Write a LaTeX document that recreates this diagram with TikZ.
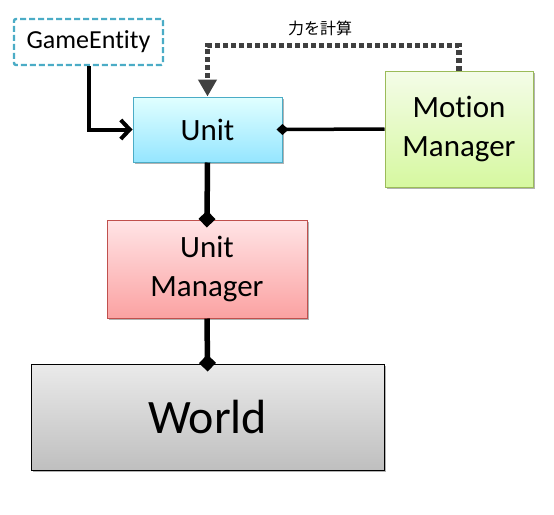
\documentclass[tikz,border=0pt]{standalone}
\usepackage{fontspec}
\setmainfont{Carlito}[Ligatures=NoCommon]
\newfontfamily\jpfont{Noto Sans CJK JP}
\usetikzlibrary{arrows.meta,shadows}
\definecolor{tealb}{HTML}{4BACC6}
\definecolor{greenb}{HTML}{9BBB59}
\definecolor{redb}{HTML}{C0504D}
\definecolor{dotgray}{HTML}{404040}
\tikzset{
  boxbase/.style={draw, line width=1pt, inner sep=0pt, align=center,
    drop shadow={shadow xshift=1.5pt, shadow yshift=-1.5pt, opacity=0.3, fill=black}},
  unitbox/.style={boxbase, draw=tealb, top color=cyan!12!white, bottom color=cyan!35!white!90!blue},
  motionbox/.style={boxbase, draw=greenb, top color={rgb,255:red,244;green,252;blue,232}, bottom color={rgb,255:red,214;green,248;blue,160}},
  umbox/.style={boxbase, draw=redb, top color={rgb,255:red,255;green,228;blue,230}, bottom color={rgb,255:red,251;green,162;blue,162}},
  worldbox/.style={boxbase, draw=black, top color={rgb,255:red,234;green,234;blue,234}, bottom color={rgb,255:red,191;green,191;blue,191}},
  gebox/.style={draw=tealb, line width=2.4pt, dash pattern=on 6pt off 3pt, rounded corners=2pt, fill=white, inner sep=0pt},
  conn/.style={line width=4.5pt, draw=black},
  dia/.style={-{Diamond[length=17pt,width=17pt]}, shorten >=-8pt},
}
\begin{document}
\begin{tikzpicture}[x=1pt,y=-1pt]
\useasboundingbox (0,0) rectangle (554,514);
\node[gebox, minimum width=149pt, minimum height=46pt, font=\fontsize{26}{30}\selectfont] (ge) at (88.5,42) {GameEntity};
\node[unitbox, minimum width=149pt, minimum height=65pt, font=\fontsize{31}{38}\selectfont] (unit) at (207.5,129.5) {Unit};
\node[motionbox, minimum width=148pt, minimum height=116pt, font=\fontsize{31}{39}\selectfont] (mm) at (459,129) {Motion\\Manager};
\node[umbox, minimum width=200pt, minimum height=98pt, font=\fontsize{31}{39}\selectfont] (um) at (207,269) {Unit\\Manager};
\node[worldbox, minimum width=353pt, minimum height=106pt, font=\fontsize{48}{56}\selectfont] (world) at (207.5,417) {World};
\node[font=\jpfont\fontsize{16}{18}\selectfont, inner sep=0pt] (lbl) at (320,28) {力を計算};
% connectors
\draw[conn, line width=4pt, -{Straight Barb[length=9pt,width=19pt]}] (ge.south) |- (unit.west);
\draw[conn, line width=5.5pt, dia] (unit.south) -- (um.north);
\draw[conn, line width=5.5pt, dia] (um.south) -- (world.north);
\draw[conn, line width=3.5pt, -{Diamond[length=12pt,width=11pt]}, shorten >=-6pt] (mm.west) -- (unit.east);
\coordinate (turn) at ([yshift=25pt]mm.north);
\draw[line width=5.5pt, draw=dotgray, dash pattern=on 5pt off 3pt, -{Triangle[length=17pt,width=18pt,fill=dotgray]}] (mm.north) -- (turn) -| (unit.north);
\end{tikzpicture}
\end{document}
